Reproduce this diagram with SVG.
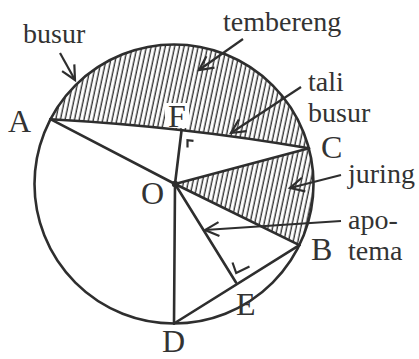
<svg xmlns="http://www.w3.org/2000/svg" width="419" height="359" viewBox="0 0 419 359">
<style>
.ln{fill:none;stroke:#2e2e2e;stroke-width:2.6;stroke-linecap:round;stroke-linejoin:round}
.mk{fill:none;stroke:#2e2e2e;stroke-width:2.2;stroke-linecap:butt;stroke-linejoin:miter}
.ar{fill:none;stroke:#2e2e2e;stroke-width:2.2;marker-end:url(#ah)}
.lbl{font-family:"Liberation Serif","Times New Roman",serif;font-size:28px;fill:#333}
.pt{font-family:"Liberation Serif","Times New Roman",serif;font-size:32px;fill:#333}
.hatch{fill:url(#hp);stroke:none}
</style>
<defs>
<pattern id="hp" patternUnits="userSpaceOnUse" width="4.6" height="10" patternTransform="rotate(12)">
<line x1="1.2" y1="-1" x2="1.2" y2="11" stroke="#333" stroke-width="1.4"/>
</pattern>
<marker id="ah" markerUnits="userSpaceOnUse" markerWidth="20" markerHeight="20" viewBox="-16 -10 20 20" refX="0" refY="0" orient="auto">
<path d="M-14,-7 L0,0 L-14,7" fill="none" stroke="#2e2e2e" stroke-width="2.2"/>
</marker>
</defs>
<rect width="419" height="359" fill="#fff"/>
<g id="regions">
<path class="hatch" d="M50.4,119.2 A139.5,139.5 0 0 1 309,148.3 Q184,126.5 50.4,119.2 Z"/>
<path class="hatch" d="M175,184 L309,148.3 A139.5,139.5 0 0 1 299.4,245.2 Z"/>
<rect x="165" y="103" width="24" height="25" fill="#fff"/>
</g>
<g id="circle">
<circle class="ln" cx="174" cy="184" r="139.5"/>
</g>
<g id="connectors">
<path class="ln" d="M50.4,119.2 Q184,126.5 309,148.3"/>
<line class="ln" x1="50.4" y1="119.2" x2="175" y2="184"/>
<line class="ln" x1="175" y1="184" x2="309" y2="148.3"/>
<line class="ln" x1="175" y1="184" x2="299.4" y2="245.2"/>
<line class="ln" x1="175" y1="184" x2="174" y2="323.5"/>
<line class="ln" x1="174" y1="323.5" x2="299.4" y2="245.2"/>
<line class="ln" x1="175" y1="184" x2="236" y2="282.5"/>
<line class="ln" x1="175" y1="184" x2="181.6" y2="130"/>
<path class="mk" d="M187.5,147.5 V140.2 L193.5,140.8"/>
<path class="mk" d="M232.5,262.5 L236.2,273 L249.5,266.5"/>
<line class="ar" x1="60" y1="53" x2="75" y2="80"/>
<line class="ar" x1="243" y1="39" x2="199" y2="70"/>
<line class="ar" x1="301" y1="87" x2="231" y2="133"/>
<line class="ar" x1="341" y1="175" x2="290" y2="188"/>
<line class="ar" x1="341" y1="221" x2="205" y2="230"/>
</g>
<g id="node-O"><circle cx="175" cy="184" r="3.2" fill="#2e2e2e"/><text class="pt" x="141" y="204">O</text></g>
<g id="node-A"><text class="pt" x="8" y="132">A</text></g>
<g id="node-F"><text class="pt" x="168" y="127">F</text></g>
<g id="node-C"><text class="pt" x="321" y="158">C</text></g>
<g id="node-B"><text class="pt" x="311" y="260">B</text></g>
<g id="node-E"><text class="pt" x="236" y="315">E</text></g>
<g id="node-D"><text class="pt" x="162" y="352">D</text></g>
<g id="labels">
<text class="lbl" x="23" y="43">busur</text>
<text class="lbl" x="223" y="31">tembereng</text>
<text class="lbl" x="308" y="91">tali</text>
<text class="lbl" x="308" y="122">busur</text>
<text class="lbl" x="348" y="183">juring</text>
<text class="lbl" x="348" y="229">apo-</text>
<text class="lbl" x="348" y="260">tema</text>
</g>
</svg>
